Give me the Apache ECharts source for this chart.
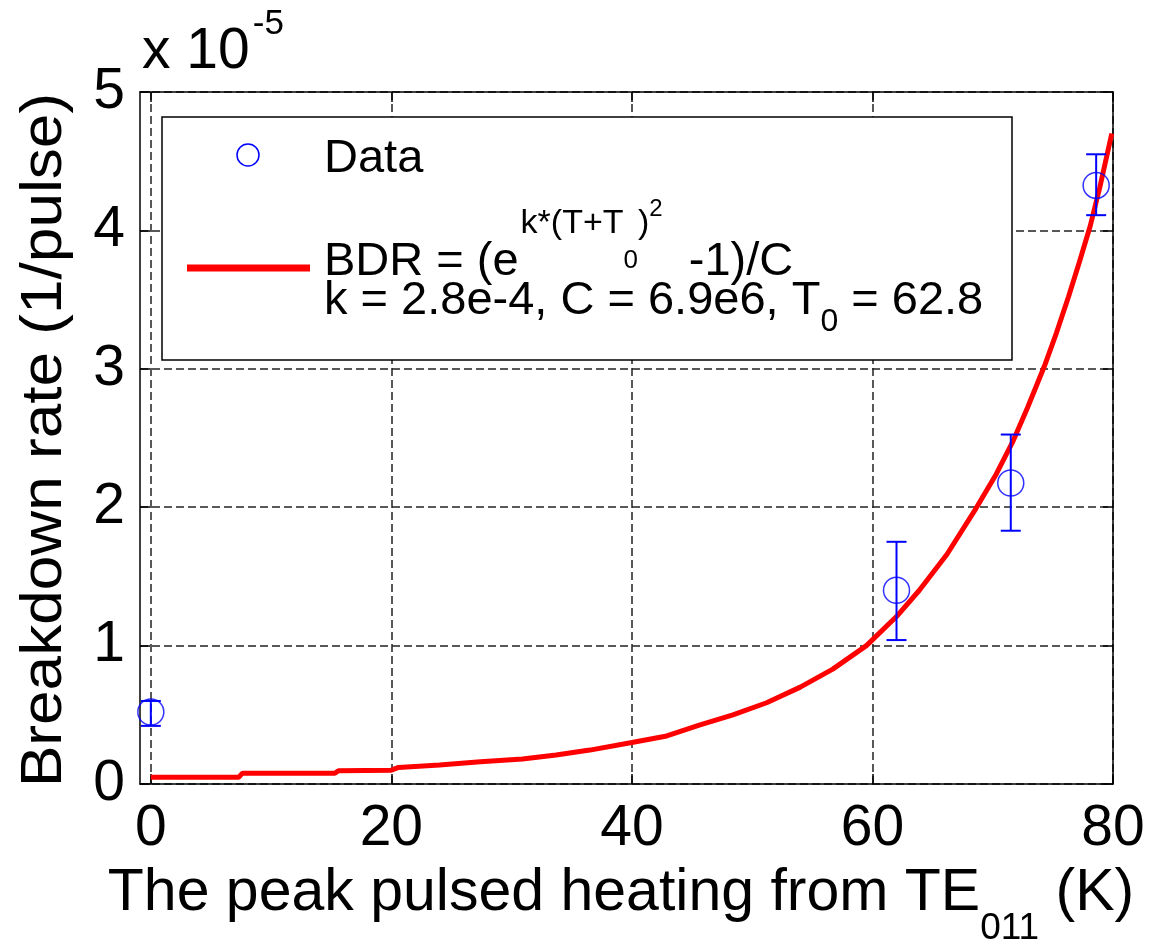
<!DOCTYPE html>
<html>
<head>
<meta charset="utf-8">
<script src="https://cdn.jsdelivr.net/npm/echarts@6/dist/echarts.min.js"></script>
<style>html,body{margin:0;padding:0;background:#fff}#c{width:1149px;height:943px}</style>
</head>
<body>
<div id="c"></div>
<script>
// ---- data (breakdown rate in units of 1e-5 per pulse) ----
const xTicks = [0, 20, 40, 60, 80];
const yTicks = [0, 1, 2, 3, 4, 5];
const dataT = [0, 62.0, 71.5, 78.6];
const dataBDR = [0.52, 1.40, 2.175, 4.325];
const errLow = [0.42, 1.04, 1.83, 4.11];
const errHigh = [0.60, 1.75, 2.525, 4.55];
const fitT = [0, 7.3, 7.6, 15.3, 15.6, 20, 20.6, 24, 27.4, 30.9, 33.7, 36.5, 40, 42.9, 45.6, 48.4, 51.2, 54, 56.7, 59.5, 62, 63.9, 66.2, 68.6, 70.3, 71.7, 72.9, 74.3, 75.3, 76.3, 77.2, 78.1, 78.9, 79.9];
const fitBDR = [0.048, 0.048, 0.077, 0.077, 0.096, 0.10, 0.12, 0.137, 0.16, 0.18, 0.21, 0.245, 0.30, 0.347, 0.426, 0.50, 0.587, 0.70, 0.83, 1.00, 1.21, 1.40, 1.66, 1.99, 2.24, 2.48, 2.72, 3.02, 3.26, 3.52, 3.77, 4.03, 4.31, 4.70];

const FONT = '"Liberation Sans", Arial, Helvetica, sans-serif';
const mctx = document.createElement('canvas').getContext('2d');
function tw(s, size) { mctx.font = size + 'px ' + FONT; return mctx.measureText(s).width; }
function txt(s, x, cy, size, extra) {
  return Object.assign({
    type: 'text', x: x, y: cy, z: 120,
    style: { text: s, font: size + 'px ' + FONT, fill: '#000',
      textAlign: 'left', align: 'left', textVerticalAlign: 'middle', verticalAlign: 'middle' }
  }, extra || {});
}
function runs(x, parts) {
  const out = [];
  for (const p of parts) {
    x += (p.dx || 0);
    out.push(txt(p.t, x, p.cy, p.size));
    x += tw(p.t, p.size);
  }
  return out;
}

const LF = 47; // legend font
const graphics = [];
// legend box
graphics.push({ type: 'rect', z: 110, shape: { x: 162, y: 117, width: 850, height: 243 },
  style: { fill: '#fff', stroke: '#000', lineWidth: 1.5 } });
graphics.push({ type: 'circle', z: 120, shape: { cx: 248, cy: 155, r: 11 },
  style: { fill: 'none', stroke: '#0000ff', lineWidth: 1.5 } });
graphics.push({ type: 'line', z: 120, shape: { x1: 187, y1: 268, x2: 310, y2: 268 },
  style: { stroke: '#ff0000', lineWidth: 7 } });
graphics.push(txt('Data', 324, 159, LF));
graphics.push(...runs(324, [
  { t: 'BDR = (e', size: LF, cy: 262 },
  { t: 'k*(T+T', size: 34, cy: 224, dx: 2 },
  { t: '0', size: 26, cy: 261 },
  { t: ')', size: 34, cy: 224 },
  { t: '2', size: 24, cy: 209 },
  { t: '  -1)/C', size: LF, cy: 262 }
]));
graphics.push(...runs(324, [
  { t: 'k = 2.8e-4, C = 6.9e6, T', size: LF, cy: 301 },
  { t: '0', size: 32, cy: 322 },
  { t: ' = 62.8', size: LF, cy: 301 }
]));
// exponent label
graphics.push(...runs(142, [
  { t: 'x 10', size: 57, cy: 52 },
  { t: '-5', size: 35, cy: 24, dx: 3 }
]));
// x-axis title
const xt = [
  { t: 'The peak pulsed heating from TE', size: 59, cy: 894 },
  { t: '011', size: 37, cy: 929 },
  { t: ' (K)', size: 59, cy: 894 }
];
const xtW = xt.reduce((a, p) => a + tw(p.t, p.size), 0);
graphics.push(...runs(621 - xtW / 2, xt));
// y-axis title
graphics.push({ type: 'text', z: 120, x: 45, y: 440, rotation: Math.PI / 2, scaleX: 1.09,
  style: { text: 'Breakdown rate (1/pulse)', font: '57px ' + FONT, fill: '#000',
    textAlign: 'center', align: 'center', textVerticalAlign: 'middle', verticalAlign: 'middle' } });

const axisLine = { show: true, onZero: false, lineStyle: { color: '#000', width: 1.5 } };
const tickStyle = { color: '#000', width: 1.5 };
const gridDash = { color: '#222', width: 1.5, type: [8, 4] };

const chart = echarts.init(document.getElementById('c'), null, { renderer: 'canvas' });
chart.setOption({
  animation: false,
  backgroundColor: '#fff',
  grid: { left: 140, top: 92, right: 36, bottom: 159, containLabel: false },
  xAxis: [{
    type: 'value', min: -0.9, max: 80, position: 'bottom',
    axisLine: axisLine,
    axisTick: { show: true, inside: true, length: 10, customValues: xTicks, lineStyle: tickStyle },
    axisLabel: { show: true, customValues: xTicks, margin: 17, fontSize: 57, fontFamily: FONT, color: '#000' },
    splitLine: { show: true, lineStyle: gridDash }
  }, {
    type: 'value', min: -0.9, max: 80, position: 'top',
    axisLine: axisLine,
    axisTick: { show: true, inside: true, length: 10, customValues: xTicks, lineStyle: tickStyle },
    axisLabel: { show: false },
    splitLine: { show: false }
  }],
  yAxis: [{
    type: 'value', min: yTicks[0], max: yTicks[yTicks.length - 1], interval: 1, position: 'left',
    axisLine: axisLine,
    axisTick: { show: true, inside: true, length: 10, lineStyle: tickStyle },
    axisLabel: { show: true, margin: 15, fontSize: 57, fontFamily: FONT, color: '#000' },
    splitLine: { show: true, lineStyle: gridDash }
  }, {
    type: 'value', min: yTicks[0], max: yTicks[yTicks.length - 1], interval: 1, position: 'right',
    axisLine: axisLine,
    axisTick: { show: true, inside: true, length: 10, lineStyle: tickStyle },
    axisLabel: { show: false },
    splitLine: { show: false }
  }],
  series: [{
    name: 'Fit', type: 'line', xAxisIndex: 0, yAxisIndex: 0,
    data: fitT.map((t, i) => [t, fitBDR[i]]),
    symbol: 'none', showSymbol: false, smooth: false,
    lineStyle: { color: '#ff0000', width: 5 }, z: 3
  }, {
    name: 'Error', type: 'custom', xAxisIndex: 0, yAxisIndex: 0,
    data: dataT.map((t, i) => [t, errLow[i], errHigh[i]]),
    encode: { x: 0, y: [1, 2] },
    renderItem: function (params, api) {
      const x = api.value(0);
      const pLo = api.coord([x, api.value(1)]);
      const pHi = api.coord([x, api.value(2)]);
      const hw = 10;
      const st = { stroke: '#0000ff', lineWidth: 2 };
      return { type: 'group', children: [
        { type: 'line', shape: { x1: pLo[0], y1: pLo[1], x2: pHi[0], y2: pHi[1] }, style: st },
        { type: 'line', shape: { x1: pLo[0] - hw, y1: pLo[1], x2: pLo[0] + hw, y2: pLo[1] }, style: st },
        { type: 'line', shape: { x1: pHi[0] - hw, y1: pHi[1], x2: pHi[0] + hw, y2: pHi[1] }, style: st }
      ] };
    },
    z: 4
  }, {
    name: 'Data', type: 'scatter', xAxisIndex: 0, yAxisIndex: 0,
    data: dataT.map((t, i) => [t, dataBDR[i]]),
    symbol: 'circle', symbolSize: 26,
    itemStyle: { color: 'rgba(0,0,0,0)', borderColor: '#0000ff', borderWidth: 1.5 },
    z: 5
  }],
  graphic: { elements: graphics }
});
</script>
</body>
</html>
